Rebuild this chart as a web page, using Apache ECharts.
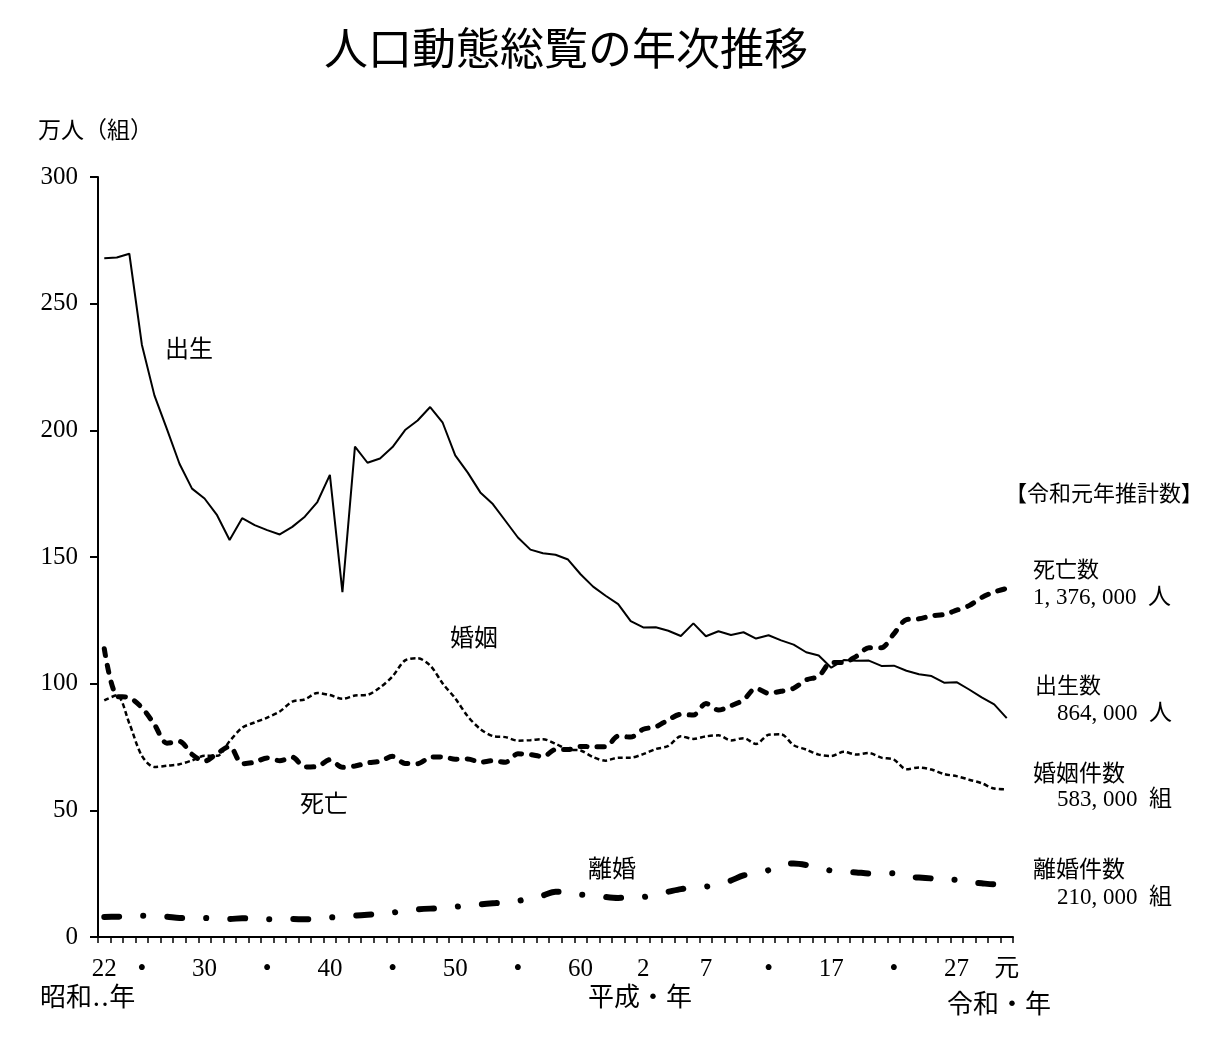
<!DOCTYPE html>
<html><head><meta charset="utf-8">
<script src="https://cdn.jsdelivr.net/npm/echarts@6/dist/echarts.min.js"></script>
<style>html,body{margin:0;padding:0;background:#fff}#c{width:1210px;height:1044px}</style>
</head><body><div id="c"></div>
<script>
const years = ['1947','1948','1949','1950','1951','1952','1953','1954','1955','1956','1957','1958','1959','1960','1961','1962','1963','1964','1965','1966','1967','1968','1969','1970','1971','1972','1973','1974','1975','1976','1977','1978','1979','1980','1981','1982','1983','1984','1985','1986','1987','1988','1989','1990','1991','1992','1993','1994','1995','1996','1997','1998','1999','2000','2001','2002','2003','2004','2005','2006','2007','2008','2009','2010','2011','2012','2013','2014','2015','2016','2017','2018','2019'];
const births = [267.9,268.2,269.7,233.8,213.8,200.5,186.8,177.0,173.1,166.5,156.7,165.3,162.6,160.6,158.9,161.9,165.9,171.7,182.4,136.1,193.6,187.2,188.9,193.4,200.1,203.9,209.2,203.0,190.1,183.3,175.5,170.9,164.3,157.7,152.9,151.5,150.9,149.0,143.2,138.3,134.7,131.4,124.7,122.2,122.3,120.9,118.8,123.8,118.7,120.7,119.2,120.3,117.8,119.1,117.1,115.4,112.4,111.1,106.3,109.3,109.0,109.1,107.0,107.1,105.1,103.7,103.0,100.4,100.6,97.7,94.6,91.8,86.4];
const deaths = [113.8,95.1,94.5,90.5,83.9,76.5,77.2,72.1,69.4,72.4,75.2,68.4,69.0,70.7,69.6,71.0,67.1,67.3,70.0,67.0,67.5,68.7,69.4,71.3,68.5,68.4,70.9,71.1,70.2,70.3,69.0,69.6,69.0,72.3,72.0,71.2,74.0,74.0,75.2,75.1,75.1,79.3,78.9,82.0,83.0,85.7,87.9,87.6,92.2,89.6,91.3,93.6,98.2,96.2,97.0,98.2,101.5,102.9,108.4,108.4,110.8,114.2,114.2,119.7,125.3,125.6,126.8,127.3,129.0,130.8,134.0,136.2,137.6];
const marriages = [93.4,95.4,84.3,71.5,67.1,67.6,68.2,69.7,71.5,71.5,77.3,82.6,84.7,86.6,89.0,92.9,93.8,96.3,95.5,94.0,95.3,95.6,98.5,102.9,109.2,110.0,107.2,100.1,94.2,87.1,82.1,79.3,78.9,77.5,77.7,78.1,76.3,74.0,73.6,71.0,69.6,70.8,70.8,72.2,74.2,75.4,79.2,78.2,79.2,79.6,77.6,78.5,76.2,79.8,80.0,75.7,74.0,72.0,71.4,73.1,72.0,72.6,70.8,70.0,66.2,66.9,66.1,64.3,63.5,62.1,60.7,58.6,58.3];
const divorces = [7.9,8.0,8.2,8.4,8.2,8.0,7.5,7.6,7.5,7.2,7.1,7.4,7.2,7.0,7.0,7.1,7.0,7.3,7.7,8.0,8.4,8.8,9.1,9.6,10.4,10.9,11.2,11.4,11.9,12.5,12.9,13.3,13.6,14.2,15.5,16.4,17.9,17.9,16.7,16.6,15.8,15.4,15.8,15.8,16.9,17.9,18.9,19.6,19.9,20.7,22.3,24.3,25.1,26.4,28.6,29.0,28.4,27.1,26.2,25.7,25.5,25.1,25.3,25.1,23.6,23.5,23.1,22.2,22.6,21.7,21.2,20.8,21.0];
const tickYears = ['1947','1950','1955','1960','1965','1970','1975','1980','1985','1990','1995','2000','2005','2010','2015','2019'];
const tickTexts = ['22','•','30','•','40','•','50','•','60','2','7','•','17','•','27','元'];
const yTicks = [0,50,100,150,200,250,300];

const SERIF = '"Liberation Serif","DejaVu Serif","Noto Sans CJK JP",serif';
const chart = echarts.init(document.getElementById('c'), null, {renderer:'canvas'});
const txt = (x, y, s, size, align) => ({type:'text', x:x, y:y, style:{text:s, font:`${size}px ${SERIF}`, fill:'#000', align:align||'left', verticalAlign:'top'}});
chart.setOption({
  animation:false,
  backgroundColor:'#fff',
  grid:{left:98, right:197, top:177, bottom:107, containLabel:false},
  xAxis:{type:'category', data:years, boundaryGap:true,
    axisLine:{lineStyle:{color:'#000', width:2}},
    axisTick:{show:true, interval:0, length:6, lineStyle:{color:'#000', width:1.5}},
    axisLabel:{interval:0, margin:20, fontFamily:SERIF, fontSize:25, color:'#000',
      formatter:(v)=>{const i=tickYears.indexOf(v); return i>=0?tickTexts[i]:'';}}},
  yAxis:{type:'value', min:yTicks[0], max:yTicks[yTicks.length-1], interval:50,
    splitLine:{show:false},
    axisLine:{show:true, lineStyle:{color:'#000', width:2}},
    axisTick:{show:true, length:8, lineStyle:{color:'#000', width:2}},
    axisLabel:{margin:20, fontFamily:SERIF, fontSize:25, color:'#000'}},
  series:[
    {name:'出生', type:'line', data:births, symbol:'none', lineStyle:{color:'#000', width:2}},
    {name:'死亡', type:'line', data:deaths, symbol:'none', smooth:0.3, lineStyle:{color:'#000', width:5, type:[7,10], cap:'round'}},
    {name:'婚姻', type:'line', data:marriages, symbol:'none', smooth:0.3, lineStyle:{color:'#000', width:2.5, type:[5,3]}},
    {name:'離婚', type:'line', data:divorces, symbol:'none', smooth:0.3, lineStyle:{color:'#000', width:6, type:[15,24,0.1,24], cap:'round'}}
  ],
  graphic:[
    txt(566,31,'人口動態総覧の年次推移',44,'center'),
    txt(38,120,'万人（組）',23),
    txt(165,339,'出生',24),
    txt(450,628,'婚姻',24),
    txt(300,794,'死亡',24),
    txt(588,859,'離婚',24),
    txt(1005,484,'【令和元年推計数】',22),
    txt(1033,560,'死亡数',22),
    txt(1033,586,'1, 376, 000  人',23),
    txt(1035,676,'出生数',22),
    txt(1057,702,'864, 000  人',23),
    txt(1033,763,'婚姻件数',23),
    txt(1057,788,'583, 000  組',23),
    txt(1033,859,'離婚件数',23),
    txt(1057,886,'210, 000  組',23),
    txt(40,986,'昭和‥年',26),
    txt(588,986,'平成・年',26),
    txt(947,993,'令和・年',26)
  ]
});
</script></body></html>
